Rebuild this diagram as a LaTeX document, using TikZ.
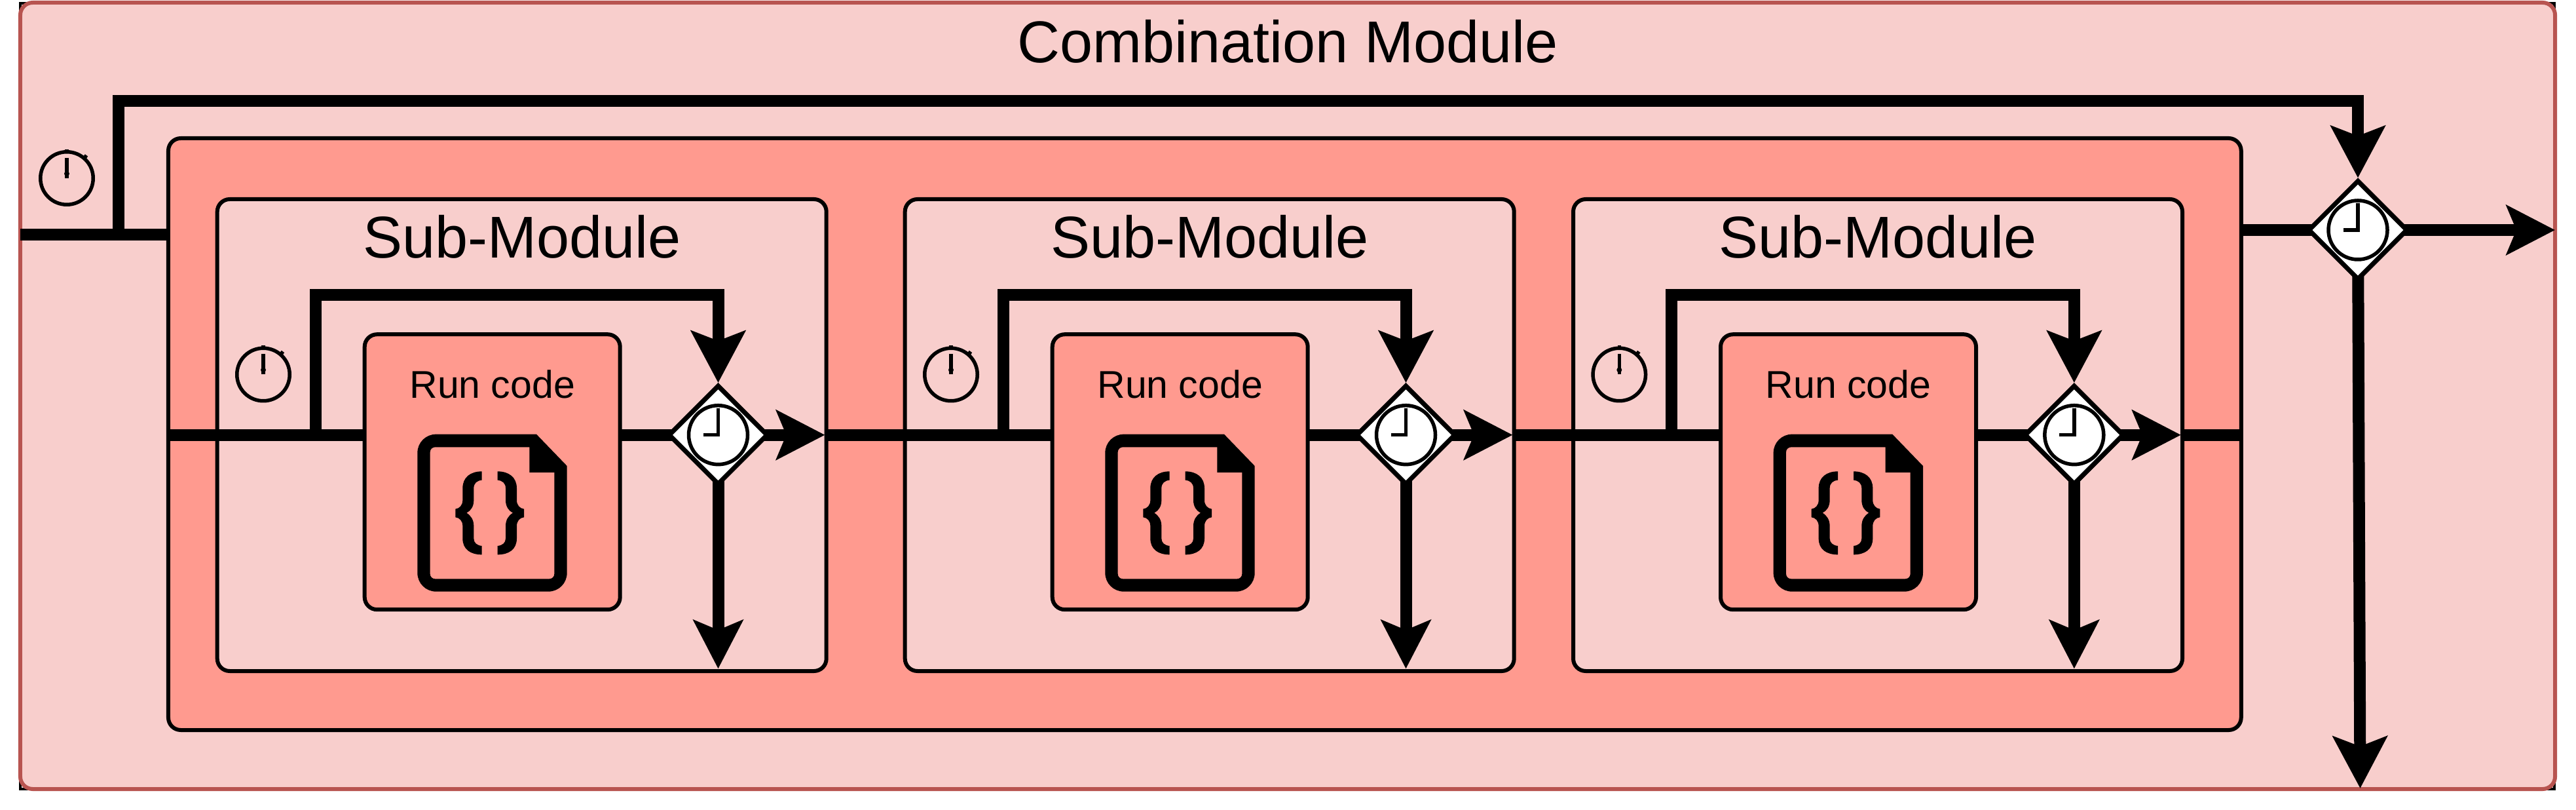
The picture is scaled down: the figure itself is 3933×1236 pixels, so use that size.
\documentclass[tikz,border=0pt]{standalone}
\usepackage{fontspec}
\setmainfont{Liberation Sans}
\usetikzlibrary{shapes.geometric,arrows.meta}
\definecolor{paleRed}{HTML}{F8CECC}
\definecolor{edgeRed}{HTML}{B85450}
\definecolor{midRed}{HTML}{FF9A8F}
\tikzset{
  box/.style={rectangle,draw=black,line width=1.2pt,rounded corners=3.8pt,inner sep=0pt,outer sep=0pt},
  outerbox/.style={box,draw=edgeRed,fill=paleRed,minimum width=774pt,minimum height=240pt},
  midbox/.style={box,fill=midRed,minimum width=632.94pt,minimum height=180.6pt},
  subbox/.style={box,fill=paleRed,minimum width=186pt,minimum height=144pt},
  runbox/.style={box,fill=midRed,minimum width=78pt,minimum height=84pt},
  gate/.style={diamond,draw=black,fill=white,line width=1.4pt,minimum width=30.4pt,minimum height=30.4pt,inner sep=0pt},
  gateclock/.style={circle,draw=black,fill=white,line width=1.1pt,minimum size=18pt,inner sep=0pt,outer sep=0pt},
  freeclock/.style={circle,draw=black,line width=1.1pt,minimum size=16.1pt,inner sep=0pt,outer sep=0pt},
  hand/.style={draw=black,line width=1.1pt,miter limit=10},
  wire/.style={draw=black,line width=3.6pt,miter limit=10},
  tipA/.style={-{Stealth[length=15.8pt,width=16.4pt,inset=3pt]}},
  tipB/.style={-{Stealth[length=14.8pt,width=15pt,inset=3pt]}},
  bigtext/.style={font=\fontsize{18}{20}\selectfont,anchor=base,inner sep=0pt},
  smalltext/.style={font=\fontsize{11.8}{14}\selectfont,anchor=base,inner sep=0pt},
  codeicon/.pic={
    \begin{scope}[x=0.06667pt,y=-0.06667pt]
      \path[fill=black,even odd rule]
        (137,38) -- (597,38) -- (737,183) -- (737,673) .. controls (737,720) and (699,758) .. (652,758)
        -- (137,758) .. controls (90,758) and (52,720) .. (52,673) -- (52,123) .. controls (52,76) and (90,38) .. (137,38) -- cycle
        (133,97) -- (565,97) -- (565,213) -- (679,213) -- (679,677) .. controls (679,690) and (669,700) .. (656,700)
        -- (133,700) .. controls (120,700) and (110,690) .. (110,677) -- (110,120) .. controls (110,107) and (120,97) .. (133,97) -- cycle;
      \path[fill=black]
        (347,208) -- (347,248) .. controls (325,250) and (310,262) .. (310,285) -- (310,340)
        .. controls (310,368) and (297,388) .. (277,398) .. controls (297,410) and (310,430) .. (310,458)
        -- (310,515) .. controls (310,535) and (325,547) .. (347,549) -- (347,589)
        .. controls (295,589) and (259,565) .. (259,515) -- (259,458) .. controls (259,435) and (245,420) .. (226,418)
        -- (226,380) .. controls (245,378) and (259,362) .. (259,340) -- (259,285)
        .. controls (259,235) and (295,208) .. (347,208) -- cycle
        (419,208) -- (419,248) .. controls (441,250) and (456,262) .. (456,285) -- (456,340)
        .. controls (456,368) and (469,388) .. (489,398) .. controls (469,410) and (456,430) .. (456,458)
        -- (456,515) .. controls (456,535) and (441,547) .. (419,549) -- (419,589)
        .. controls (471,589) and (507,565) .. (507,515) -- (507,458) .. controls (507,435) and (521,420) .. (540,418)
        -- (540,380) .. controls (521,378) and (507,362) .. (507,340) -- (507,285)
        .. controls (507,235) and (471,208) .. (419,208) -- cycle;
    \end{scope}
  },
  freehands/.pic={
    \draw[hand] (0,-31) -- (0,0);
    \fill (0,-7) ellipse [x radius=4,y radius=4];
    \draw[hand] (0,-40) -- (0,-44);
    \draw[hand] (27,-31) -- (30,-35);
  },
  gatehands/.pic={
    \draw[hand] (0,-41) -- (0,0) -- (-22.5,0);
  }
}
\begin{document}
\begin{tikzpicture}[x=0.2pt,y=-0.2pt]
  \path[fill=white,use as bounding box] (0,0) rectangle (3933,1236);
  \draw[line width=0.8pt] (31,5) rectangle (3900,1204);
  \node[outerbox] (outer) at (1966,604) {};
  \node[bigtext] (title) at (1966,96) {Combination Module};
  \node[midbox] (mid) at (1839.35,662.5) {};

  \coordinate (inL) at (31,358);
  \coordinate (branch) at (181,358);
  \coordinate (bendA) at (181,154);
  \coordinate (bendB) at (3600,154);
  \coordinate (outR) at (3901,351);
  \coordinate (outB) at (3603.5,1203);
  \node[gate] (dm) at (3600,351) {};
  \path[wire] (inL) -- (mid.west |- inL);
  \path[wire,tipA] (branch) -- (bendA) -- (bendB) -- (dm.north);
  \path[wire] (mid.east |- dm) -- (dm.center);
  \path[wire,tipB] (dm.center) -- (outR);
  \path[wire,tipA] (dm.center) -- (outB);
  \node[gate] (dmtop) at (dm) {};
  \node[gateclock] (cm) at (3600,351) {};
  \pic at (3600,351) {gatehands};
  \node[freeclock] (fm) at (102,272) {};
  \pic at (102,272) {freehands};

  \foreach \i/\dx in {1/0,2/1050,3/2070.3} {
    \begin{scope}[shift={(\dx,0)}]
      \node[subbox] (sub\i) at (796.7,664) {};
      \node[bigtext] (subtitle\i) at (796.7,394) {Sub-Module};
      \node[runbox] (run\i) at (751.7,720.2) {};
      \node[smalltext] (runtext\i) at (751.7,608) {Run code};
      \pic at (620,650) {codeicon};
      \node[gate] (d\i) at (1096.5,663.7) {};
      \coordinate (br\i) at (481.7,663.7);
      \coordinate (fbA\i) at (481.7,450.5);
      \coordinate (fbB\i) at (1096.5,450.5);
      \coordinate (t\i) at (1259.5,663.7);
      \coordinate (b\i) at (1096.5,1020.5);
      \path[wire] (run\i.east |- d\i) -- (d\i.center);
      \path[wire,tipA] (br\i) -- (fbA\i) -- (fbB\i) -- (d\i.north);
      \path[wire,tipB] (d\i.center) -- (t\i);
      \path[wire,tipB] (d\i.center) -- (b\i);
      \node[gate] (dtop\i) at (1096.5,663.7) {};
      \node[gateclock] (cg\i) at (1096.5,663.7) {};
      \pic at (1096.5,663.7) {gatehands};
      \node[freeclock] (fc\i) at (402,571.5) {};
      \pic at (402,571.5) {freehands};
    \end{scope}
  }
  \path[wire] (mid.west |- d1) -- (run1.west |- d1);
  \path[wire] (sub1.east |- d1) -- (run2.west |- d2);
  \path[wire] (sub2.east |- d2) -- (run3.west |- d3);
  \path[wire] (sub3.east |- d3) -- (mid.east |- d3);
\end{tikzpicture}
\end{document}
